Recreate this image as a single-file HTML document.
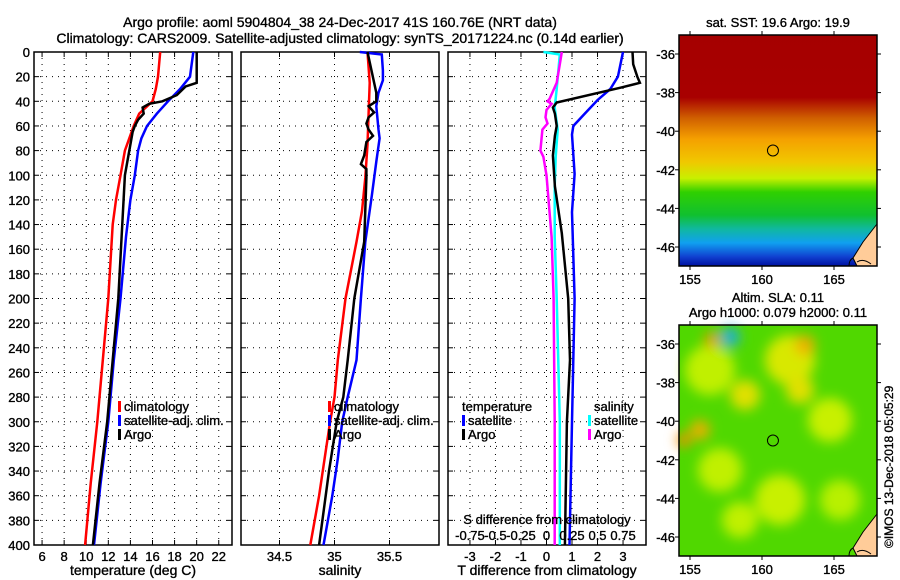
<!DOCTYPE html>
<html><head><meta charset="utf-8"><style>
html,body{margin:0;padding:0;background:#fff;}
svg{display:block;font-family:"Liberation Sans",sans-serif;}
text{stroke:#000;stroke-width:0.35;}
</style></head><body>
<svg id="fig" width="900" height="580" viewBox="0 0 900 580" xmlns="http://www.w3.org/2000/svg">
<defs>
<linearGradient id="sstg" x1="0" y1="0" x2="0" y2="1">
<stop offset="0" stop-color="#a50000"/><stop offset="0.27" stop-color="#a80000"/>
<stop offset="0.36" stop-color="#d06000"/><stop offset="0.45" stop-color="#f5a000"/>
<stop offset="0.55" stop-color="#f0c800"/><stop offset="0.62" stop-color="#c8f000"/>
<stop offset="0.68" stop-color="#30d000"/><stop offset="0.78" stop-color="#10c030"/>
<stop offset="0.84" stop-color="#10b8a0"/><stop offset="0.9" stop-color="#10a0f0"/>
<stop offset="0.96" stop-color="#1040d0"/><stop offset="1" stop-color="#0010a0"/>
</linearGradient>
<filter id="blur"><feGaussianBlur stdDeviation="6"/></filter>
</defs>
<text x="340" y="27" font-size="14" text-anchor="middle">Argo profile: aoml 5904804_38 24-Dec-2017 41S 160.76E (NRT data)</text>
<text x="340" y="43" font-size="14" text-anchor="middle">Climatology: CARS2009. Satellite-adjusted climatology: synTS_20171224.nc (0.14d earlier)</text>
<g id="panels"></g>
<g id="maps"></g>
<text transform="translate(893,548) rotate(-90)" font-size="12">©IMOS 13-Dec-2018 05:05:29</text>
</svg>
<script>
// ---------- data ----------
const depthTicks=[0,20,40,60,80,100,120,140,160,180,200,220,240,260,280,300,320,340,360,380,400];
const tempTicks=[6,8,10,12,14,16,18,20,22];
const salTicks=[34.5,35,35.5];
const tdiffTicks=[-3,-2,-1,0,1,2,3];
const sdiffTickLabels=["-0.75","-0.5","-0.25","0","0.25","0.5","0.75"];
const sdiffTickValues=[-0.75,-0.5,-0.25,0,0.25,0.5,0.75];

const climTDepth=[0,10,20,30,40,50,60,80,100,120,140,200,250,280,300,350,400];
const climT=[16.7,16.6,16.5,16.3,16.0,14.8,14.3,13.5,13.1,12.7,12.4,12.0,11.5,11.2,11.0,10.4,9.9];
const satTDepth=[0,20,30,40,50,60,70,80,100,120,150,200,250,280,300,350,400];
const satT=[19.7,19.4,18.5,17.4,16.4,15.5,15.0,14.7,14.4,14.0,13.6,13.1,12.5,12.2,12.0,11.3,10.7];
const argoTDepth=[0,25,28,35,40,42,45,50,55,60,65,70,80,100,150,200,250,300,350,400];
const argoT=[20.0,20.0,19.0,18.2,16.9,15.7,15.1,15.2,14.7,14.4,14.2,14.1,13.9,13.5,13.2,12.9,12.4,11.9,11.2,10.6];

const climSDepth=[0,25,75,102,129,154,200,250,280,300,330,360,400];
const climS=[35.30,35.32,35.30,35.28,35.25,35.20,35.10,35.03,35.00,34.96,34.91,34.86,34.78];
const satSDepth=[0,2,15,23,33,44,63,70,89,116,154,200,250,280,300,330,360,400];
const satS=[35.23,35.43,35.44,35.44,35.40,35.38,35.40,35.41,35.38,35.34,35.28,35.24,35.20,35.12,35.07,35.03,34.98,34.90];
const argoSDepth=[0,33,40,44,49,53,58,63,68,73,84,91,95,102,154,200,250,280,300,340,360,400];
const argoS=[35.30,35.38,35.38,35.31,35.36,35.31,35.29,35.31,35.35,35.29,35.27,35.24,35.29,35.29,35.27,35.18,35.12,35.08,35.02,34.95,34.92,34.86];

const tdSatDepth=[0,20,30,39,50,60,67,99,130,200,300,400];
const tdSat=[3.0,2.8,2.5,2.0,1.5,1.05,1.0,1.1,1.0,1.1,1.0,0.9];
const tdArgoDepth=[0,10,20,25,29,41,45,50,60,68,84,109,147,200,250,300,400];
const tdArgo=[3.37,3.4,3.56,3.66,2.9,0.4,0.25,0.33,0.4,0.33,0.25,0.33,0.6,0.85,0.92,0.8,0.72];
const sdSatDepth=[0,2,30,45,63,85,109,150,200,300,400];
const sdSat=[-0.03,0.13,0.10,0.08,0.11,0.09,0.08,0.08,0.10,0.13,0.13];
const sdArgoDepth=[0,10,25,38,40,42,47,53,58,63,80,85,100,150,200,300,400];
const sdArgo=[0.15,0.13,0.10,0.03,0.01,0.05,0.0,-0.01,0.01,-0.04,-0.06,-0.03,0.0,0.05,0.07,0.08,0.08];

const latTicks=[-36,-38,-40,-42,-44,-46];
const lonTicks=[155,160,165];
const argoLon=160.76, argoLat=-41.0;
// ---------- drawing ----------
const NS='http://www.w3.org/2000/svg';
function el(tag,attrs,parent){const e=document.createElementNS(NS,tag);for(const k in attrs)e.setAttribute(k,attrs[k]);parent.appendChild(e);return e;}
const Y0=52,Y1=545;
const yScale=d=>Y0+(d/400)*(Y1-Y0);
const panels=document.getElementById('panels');
const P=[
 {x0:34,x1:232,v0:5.27,v1:23.2},
 {x0:241,x1:439,v0:34.15,v1:35.95},
 {x0:448,x1:646,v0:-3.86,v1:3.9}
];
function xs(p){return v=>p.x0+(v-p.v0)/(p.v1-p.v0)*(p.x1-p.x0);}
const xT=xs(P[0]),xS=xs(P[1]),xD=xs(P[2]);
const xSD=v=>xD(v*4);

function frame(p,name,ticks,xf,labels,showY){
  const g=el('g',{},panels);
  
  
  ticks.forEach(t=>{const x=xf(t);
    el('line',{x1:x,y1:Y0,x2:x,y2:Y1,stroke:'#000','stroke-width':1,'stroke-dasharray':'1,5'},g);
    el('line',{x1:x,y1:Y1,x2:x,y2:Y1-5,stroke:'#000'},g);el('line',{x1:x,y1:Y0,x2:x,y2:Y0+5,stroke:'#000'},g);});
  depthTicks.forEach(d=>{const y=yScale(d);
    if(d>0&&d<400)el('line',{x1:p.x0,y1:y,x2:p.x1,y2:y,stroke:'#000','stroke-dasharray':'1,5'},g);
    el('line',{x1:p.x0,y1:y,x2:p.x0+5,y2:y,stroke:'#000'},g);el('line',{x1:p.x1,y1:y,x2:p.x1-5,y2:y,stroke:'#000'},g);
    if(showY){const t=el('text',{x:p.x0-4,y:y+5,'font-size':13,'text-anchor':'end'},g);t.textContent=d;
      }
  });
  if(labels)ticks.forEach((t,i)=>{const tx=el('text',{x:xf(t),y:Y1+16,'font-size':13,'text-anchor':'middle'},g);tx.textContent=labels[i];
    });
  el('rect',{x:p.x0,y:Y0,width:p.x1-p.x0,height:Y1-Y0,fill:'none',stroke:'#000','stroke-width':1.5},g);
}
frame(P[0],'temperature-panel',tempTicks,xT,tempTicks.map(String),true);
frame(P[1],'salinity-panel',salTicks,xS,salTicks.map(String),false);
frame(P[2],'difference-panel',tdiffTicks,xD,tdiffTicks.map(String),false);

function line(xf,vals,depths,color,name){
  const pts=vals.map((v,i)=>xf(v).toFixed(1)+','+yScale(depths[i]).toFixed(1)).join(' ');
  const pl=el('polyline',{points:pts,fill:'none',stroke:color,'stroke-width':2.5},panels);
  
  
}
line(xT,climT,climTDepth,'#f00','temp-climatology-line');
line(xT,satT,satTDepth,'#00f','temp-satellite-line');
line(xT,argoT,argoTDepth,'#000','temp-argo-line');
line(xS,climS,climSDepth,'#f00','sal-climatology-line');
line(xS,satS,satSDepth,'#00f','sal-satellite-line');
line(xS,argoS,argoSDepth,'#000','sal-argo-line');
line(xSD,sdSat,sdSatDepth,'#0ff','sdiff-satellite-line');
line(xSD,sdArgo,sdArgoDepth,'#f0f','sdiff-argo-line');
line(xD,tdSat,tdSatDepth,'#00f','tdiff-satellite-line');
line(xD,tdArgo,tdArgoDepth,'#000','tdiff-argo-line');

function txt(x,y,s,name,opts){const t=el('text',Object.assign({x:x,y:y,'font-size':13},opts||{}),panels);t.textContent=s;
  return t;}
function legend(x,y,items,name){items.forEach((it,i)=>{const yy=y+i*14;
  el('rect',{x:x,y:yy-10,width:3,height:11,fill:it[1]},panels);
  txt(x+6,yy,it[0],name+'-'+i);});}
const L3=[['climatology','#f00'],['satellite-adj. clim.','#00f'],['Argo','#000']];
legend(118,411,L3,'temp-legend-entry');
legend(328,411,L3,'sal-legend-entry');
txt(462,411,'temperature','tdiff-legend-title');
legend(462,425,[['satellite','#00f'],['Argo','#000']],'tdiff-legend-entry');
txt(594,411,'salinity','sdiff-legend-title');
legend(588,425,[['satellite','#0ff'],['Argo','#f0f']],'sdiff-legend-entry');
txt(547,524,'S difference from climatology','sdiff-axis-title',{'text-anchor':'middle'});
sdiffTickValues.forEach((v,i)=>txt(xSD(v),540,sdiffTickLabels[i],'sdiff-tick-label',{'text-anchor':'middle'}));
txt(133,575,'temperature (deg C)','temperature-axis-title',{'text-anchor':'middle','font-size':14});
txt(340,575,'salinity','salinity-axis-title',{'text-anchor':'middle','font-size':14});
txt(547,575,'T difference from climatology','tdiff-axis-title',{'text-anchor':'middle','font-size':14});

// ---------- maps ----------
const maps=document.getElementById('maps');
const MX0=679,MX1=877;
const lonX=l=>690+(l-155)*14.4;
function mapFrame(y0,y1,latY,name,fillFn,titles){
  const g=el('g',{},maps);
  
  
  fillFn(g,y0,y1);
  // coast
  el('path',{d:`M${MX1},${y1-42} L${MX1-14},${y1-24} L${MX1-24},${y1-8} L${MX1-20},${y1} L${MX1},${y1} Z`,fill:'#fc9',stroke:'#000'},g);
  el('path',{d:`M${MX1-24},${y1-8} q-4,2 -4,8 M${MX1-20},${y1-4} q6,-4 14,2`,fill:'none',stroke:'#000'},g);
  el('rect',{x:MX0,y:y0,width:MX1-MX0,height:y1-y0,fill:'none',stroke:'#000','stroke-width':1.5},g);
  latTicks.forEach(l=>{const y=latY(l);
    el('line',{x1:MX1,y1:y,x2:MX1+4,y2:y,stroke:'#000'},g);
    el('line',{x1:MX0,y1:y,x2:MX0-4,y2:y,stroke:'#000'},g);
    const t=el('text',{x:MX0-4,y:y+5,'font-size':13,'text-anchor':'end'},g);t.textContent=l;
    });
  lonTicks.forEach(l=>{const x=lonX(l);
    el('line',{x1:x,y1:y1,x2:x,y2:y1+4,stroke:'#000'},g);el('line',{x1:x,y1:y0,x2:x,y2:y0-4,stroke:'#000'},g);
    const t=el('text',{x:x,y:y1+18,'font-size':13,'text-anchor':'middle'},g);t.textContent=l;
    });
  const c=el('circle',{cx:lonX(argoLon),cy:latY(argoLat),r:5.5,fill:'none',stroke:'#000'},g);
  
  titles.forEach((s,i)=>{const t=el('text',{x:778,y:y0-(titles.length-1-i)*15-8,'font-size':13,'text-anchor':'middle'},g);t.textContent=s;
    });
}
mapFrame(35,266,l=>54+(-36-l)*19.3,'sst-map',(g,y0,y1)=>{
  el('rect',{x:MX0,y:y0,width:MX1-MX0,height:y1-y0,fill:'url(#sstg)'},g);
},['sat. SST: 19.6 Argo: 19.9']);
mapFrame(325,556,l=>344+(-36-l)*19.3,'sla-map',(g,y0,y1)=>{
  el('rect',{x:MX0,y:y0,width:MX1-MX0,height:y1-y0,fill:'#50d800'},g);
  const bg=el('g',{filter:'url(#blur)'},g);
  [[710,370,'#c0f000',25],[745,395,'#e0e000',15],[790,360,'#d8e800',25],[800,390,'#e0e000',14],[830,420,'#c8f000',22],
   [700,430,'#e8b000',10],[720,470,'#c0f000',22],[780,500,'#c8f000',25],[740,520,'#c0f000',18],[840,500,'#b8f000',20],
   [730,337,'#20b0d0',10],[805,345,'#f0b000',10],[712,340,'#e0a000',8],[684,440,'#f09000',7]].forEach(b=>
    el('circle',{cx:b[0],cy:b[1],r:b[3],fill:b[2]},bg));
},['Altim. SLA: 0.11','Argo h1000: 0.079 h2000: 0.11']);
</script>
</body></html>
